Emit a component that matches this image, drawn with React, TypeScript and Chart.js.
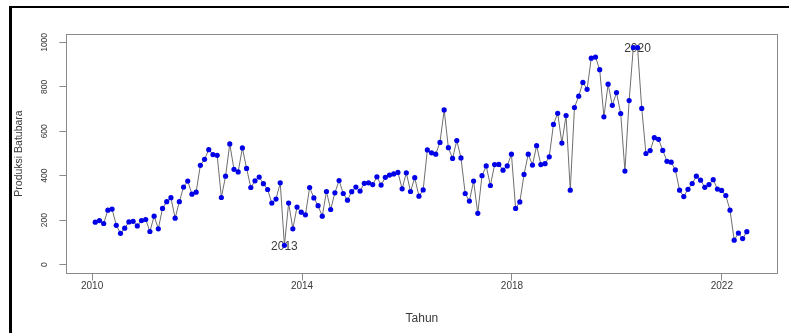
import { useEffect, useRef } from 'react';
import { Chart, registerables } from 'chart.js';

Chart.register(...registerables);

// Monthly coal production (Produksi Batubara)
const PRODUKSI: number[] = [
  191, 198, 185, 245, 250, 177, 141, 164, 192, 195, 174, 198,
  203, 149, 218, 161, 253, 283, 301, 209, 283, 349, 376, 317,
  326, 447, 474, 517, 495, 492, 302, 398, 543, 429, 417, 525,
  433, 347, 377, 394, 364, 338, 277, 295, 368, 87, 277, 161,
  259, 236, 224, 347, 300, 265, 218, 329, 248, 323, 378, 320,
  290, 328, 349, 331, 366, 368, 360, 395, 358, 393, 403, 408,
  415, 341, 413, 329, 391, 308, 336, 516, 503, 497, 550, 696,
  526, 478, 558, 480, 320, 286, 376, 231, 400, 444, 356, 450,
  451, 425, 444, 497, 253, 282, 406, 497, 448, 535, 450, 454,
  485, 631, 681, 547, 671, 335, 707, 758, 820, 789, 929, 934,
  877, 665, 812, 717, 774, 680, 421, 738, 977, 977, 703, 500,
  513, 571, 564, 514, 465, 461, 426, 335, 306, 339, 365, 398,
  380, 348, 360, 382, 340, 334, 311, 245, 110, 142, 117, 148,
];

// Time index of the series (decimal year of first observation and step)
const T_START = 2010.06;
const T_STEP = 0.0801;

const X_TICKS: number[] = [2010, 2014, 2018, 2022];
const Y_TICKS: number[] = [0, 200, 400, 600, 800, 1000];

const ANNOTATION_INDEX: number[] = [45, 129];
const ANNOTATION_TEXT: string[] = ['2013', '2020'];

const FONT = '"Liberation Sans", Arial, Helvetica, sans-serif';
const TEXT_COLOR = '#3a3a3a';
const AXIS_COLOR = '#8a8a8a';

export default function App() {
  const ref = useRef<HTMLCanvasElement>(null);

  useEffect(() => {
    document.body.style.margin = '0';
    const canvas = ref.current;
    if (!canvas) return;

    const points = PRODUKSI.map((v, i) => ({ x: T_START + i * T_STEP, y: v }));

    const rPlot = {
      id: 'rPlot',
      beforeDatasetsDraw(chart: any) {
        const { ctx } = chart;
        const xs = chart.scales.x;
        const ys = chart.scales.y;
        ctx.save();
        ctx.font = `12px ${FONT}`;
        ctx.fillStyle = TEXT_COLOR;
        ctx.textAlign = 'center';
        ctx.textBaseline = 'middle';
        ANNOTATION_INDEX.forEach((idx, k) => {
          const p = points[idx];
          ctx.fillText(ANNOTATION_TEXT[k], xs.getPixelForValue(p.x), ys.getPixelForValue(p.y) + 1.5);
        });
        ctx.restore();
      },
      afterDatasetsDraw(chart: any) {
        const { ctx, chartArea: a } = chart;
        ctx.save();
        ctx.strokeStyle = AXIS_COLOR;
        ctx.lineWidth = 1;
        const l = Math.round(a.left) + 0.5;
        const t = Math.round(a.top) + 0.5;
        const r = Math.round(a.right) - 0.5;
        const b = Math.round(a.bottom) - 0.5;
        ctx.strokeRect(l, t, r - l, b - t);
        ctx.restore();
      },
    };

    const chart = new Chart(canvas, {
      type: 'line',
      data: {
        datasets: [
          {
            data: points,
            borderColor: '#6e6e6e',
            borderWidth: 1,
            pointRadius: 2.6,
            pointBackgroundColor: '#0000e8',
            pointBorderColor: '#0000e8',
            pointBorderWidth: 0,
            tension: 0,
            fill: false,
          },
        ],
      },
      options: {
        animation: false,
        responsive: false,
        maintainAspectRatio: false,
        events: [],
        layout: { padding: { top: 33.5, right: 11.5, left: 0, bottom: 0 } },
        plugins: { legend: { display: false }, tooltip: { enabled: false } },
        scales: {
          x: {
            type: 'linear',
            min: 2009.51,
            max: 2023.06,
            afterBuildTicks: (s: any) => {
              s.ticks = X_TICKS.map((v) => ({ value: v }));
            },
            afterFit: (s: any) => {
              s.height = 59.5;
            },
            grid: { drawOnChartArea: false, drawTicks: true, tickLength: 7, color: AXIS_COLOR },
            border: { display: false },
            ticks: {
              callback: (v: any) => String(v),
              color: TEXT_COLOR,
              font: { family: FONT, size: 10 },
              padding: 0,
              maxRotation: 0,
              autoSkip: false,
            },
            title: {
              display: true,
              text: 'Tahun',
              color: TEXT_COLOR,
              font: { family: FONT, size: 12 },
              padding: { top: 0, bottom: 6.8 },
            },
          },
          y: {
            type: 'linear',
            min: -40,
            max: 1040,
            afterBuildTicks: (s: any) => {
              s.ticks = Y_TICKS.map((v) => ({ value: v }));
            },
            afterFit: (s: any) => {
              s.width = 66.4;
            },
            grid: { drawOnChartArea: false, drawTicks: true, tickLength: 7, color: AXIS_COLOR },
            border: { display: false },
            ticks: {
              callback: (v: any) => String(v),
              color: TEXT_COLOR,
              font: { family: FONT, size: 8.5 },
              padding: 5,
              minRotation: 90,
              maxRotation: 90,
              crossAlign: 'center',
              autoSkip: false,
            },
            title: {
              display: true,
              text: 'Produksi Batubara',
              color: TEXT_COLOR,
              font: { family: FONT, size: 10.5 },
              padding: { top: 12.7, bottom: 0 },
            },
          },
        },
      },
      plugins: [rPlot],
    } as any);

    return () => chart.destroy();
  }, []);

  return (
    <div style={{ position: 'relative', width: 789, height: 333, background: '#fff' }}>
      <canvas ref={ref} width={789} height={333} style={{ display: 'block' }} />
      <div
        style={{
          position: 'absolute',
          left: 9,
          top: 6,
          right: 0,
          bottom: 0,
          borderLeft: '3px solid #000',
          borderTop: '2px solid #000',
          pointerEvents: 'none',
        }}
      />
    </div>
  );
}
